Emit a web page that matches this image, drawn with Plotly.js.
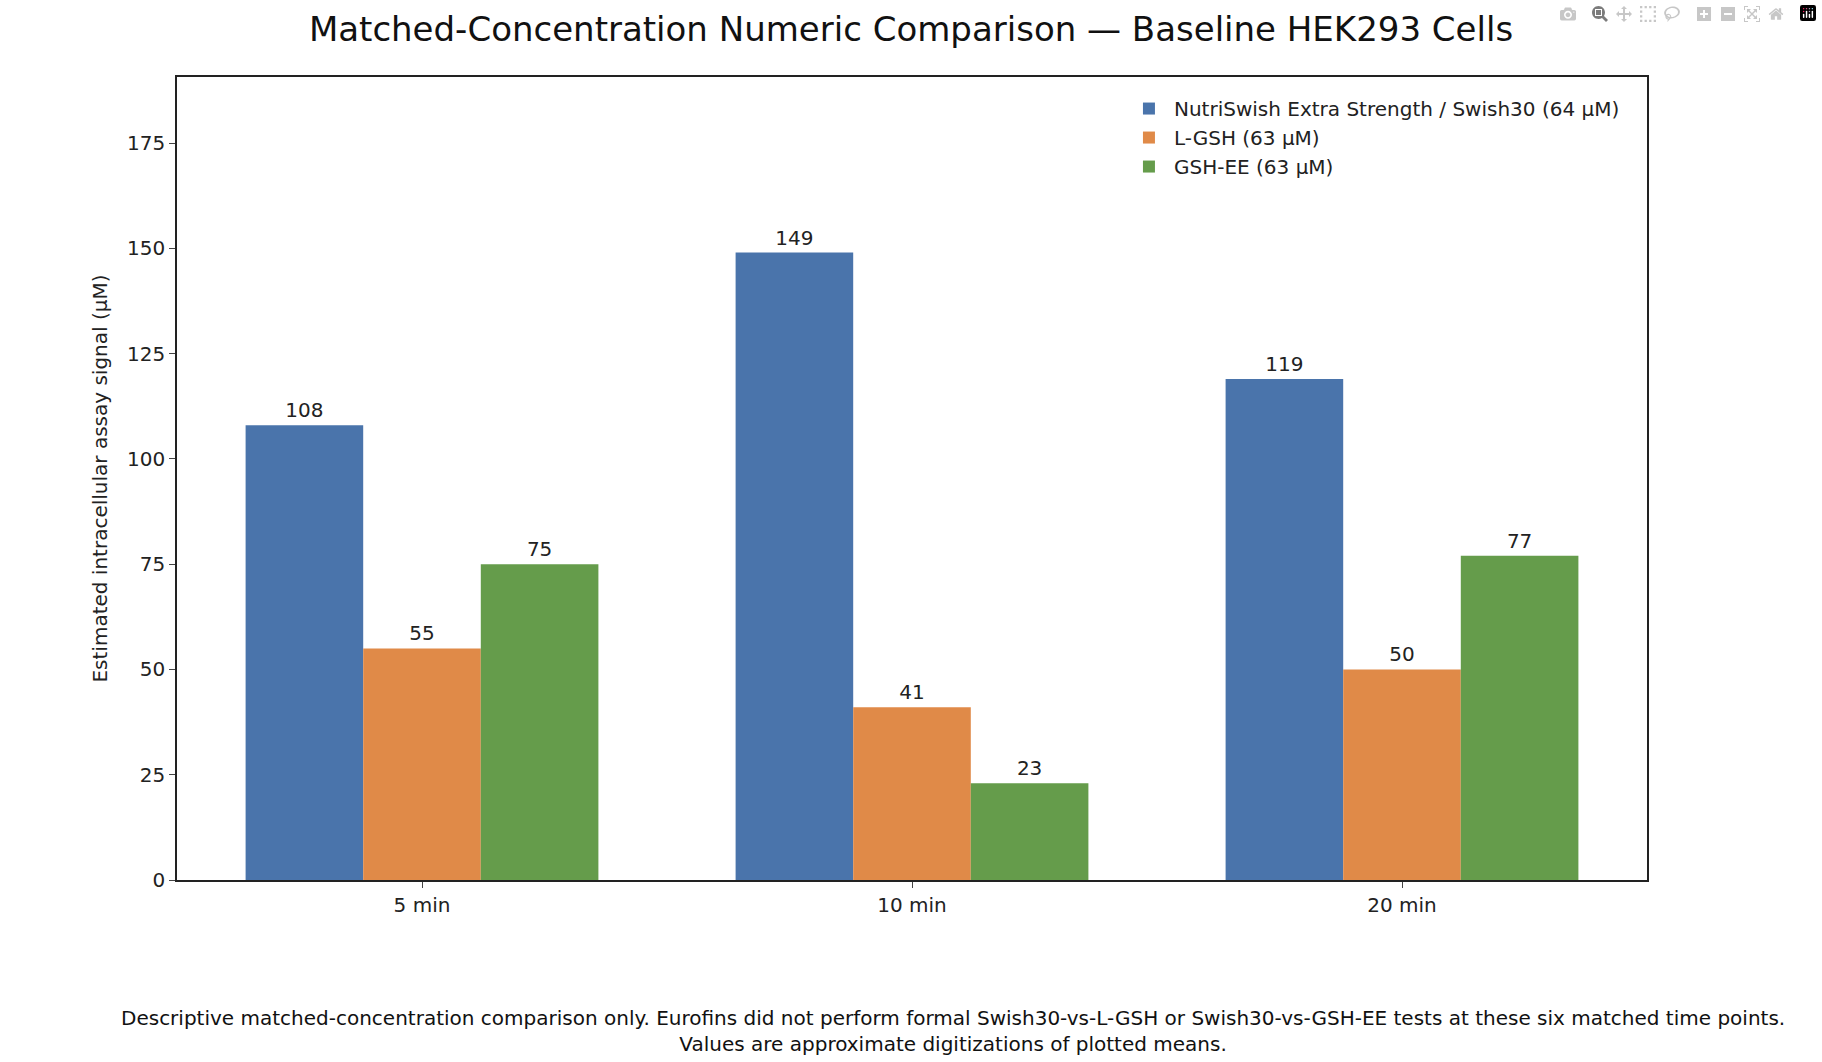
<!DOCTYPE html>
<html><head><meta charset="utf-8">
<script src="https://cdn.plot.ly/plotly-3.0.1.min.js"></script>
<style>body{margin:0;background:#fff}#c{width:1822px;height:1062px}</style>
</head><body><div id="c"></div>
<script>
const categories = ['5 min', '10 min', '20 min'];
const seriesNames = ['NutriSwish Extra Strength / Swish30 (64 µM)', 'L-GSH (63 µM)', 'GSH-EE (63 µM)'];
const swish30 = [108, 149, 119];
const lgsh = [55, 41, 50];
const gshee = [75, 23, 77];
const colors = ['#4a74ab', '#e08a48', '#659c4b'];
const yTicks = [0, 25, 50, 75, 100, 125, 150, 175];

const F = 'DejaVu Sans, sans-serif';
const traces = [swish30, lgsh, gshee].map((v, i) => ({
  type: 'bar', name: seriesNames[i], x: categories, y: v,
  marker: {color: colors[i]}, text: v.map(String), textposition: 'outside',
  textfont: {family: F, size: 20, color: '#222'}, cliponaxis: false
}));
Plotly.newPlot('c', traces, {
  width: 1822, height: 1062, paper_bgcolor: '#fff', plot_bgcolor: '#fff',
  font: {family: F, color: '#222'},
  margin: {l: 177, r: 175, t: 77, b: 182},
  title: {text: 'Matched-Concentration Numeric Comparison — Baseline HEK293 Cells', font: {family: F, size: 34, color: '#111'}, x: 0.5, xanchor: 'center', y: 0.973, yanchor: 'middle'},
  barmode: 'group', bargap: 0.28, bargroupgap: 0,
  xaxis: {showline: true, linecolor: '#222', linewidth: 1.5, mirror: true, ticks: 'outside', ticklen: 6, tickfont: {family: F, size: 20}},
  yaxis: {range: [0, 190.7], tickvals: yTicks, showgrid: false, zeroline: false, showline: true, linecolor: '#222', linewidth: 1.5, mirror: true, ticks: 'outside', ticklen: 6, tickfont: {family: F, size: 20},
    title: {text: 'Estimated intracellular assay signal (µM)', font: {family: F, size: 20}, standoff: 14}},
  legend: {x: 0.985, xanchor: 'right', y: 0.985, yanchor: 'top', bgcolor: 'rgba(255,255,255,0.8)', font: {family: F, size: 20}, itemwidth: 40},
  annotations: [{text: 'Descriptive matched-concentration comparison only. Eurofins did not perform formal Swish30-vs-L-GSH or Swish30-vs-GSH-EE tests at these six matched time points.<br>Values are approximate digitizations of plotted means.',
    xref: 'paper', yref: 'paper', x: 0.5, y: -0.155, xanchor: 'center', yanchor: 'top', showarrow: false, font: {family: F, size: 20, color: '#111'}, align: 'center', xshift: 41}]
});
</script></body></html>
